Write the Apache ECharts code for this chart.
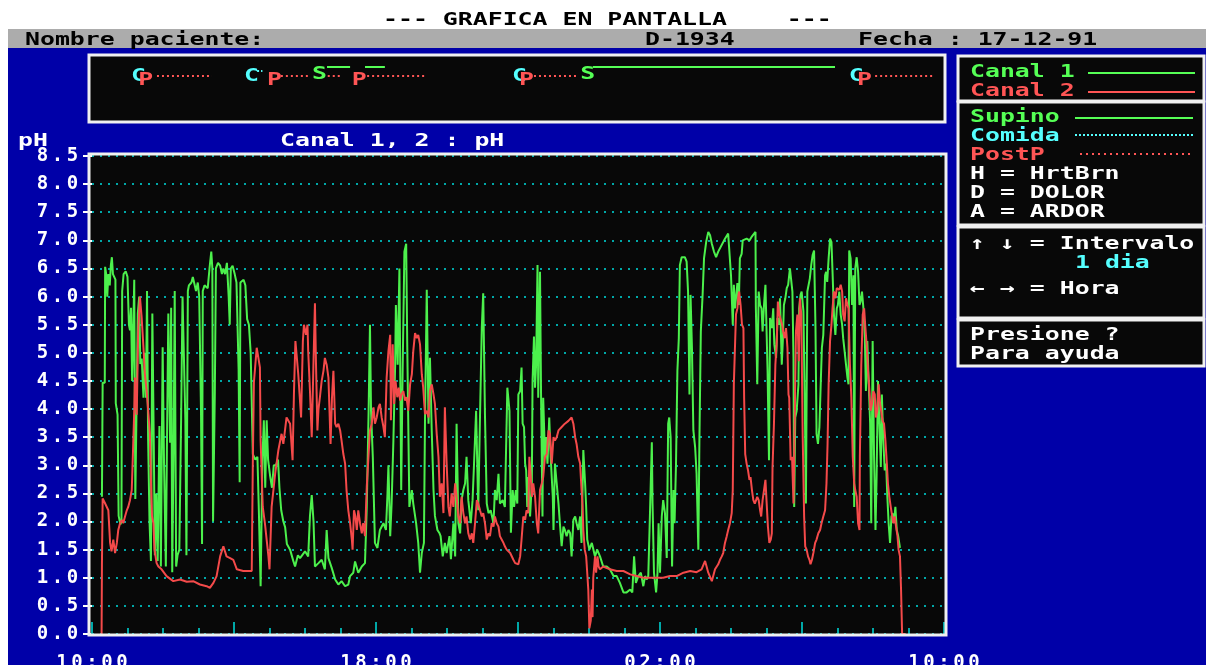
<!DOCTYPE html>
<html>
<head>
<meta charset="utf-8">
<script src="https://cdn.jsdelivr.net/npm/echarts@6/dist/echarts.min.js"></script>
<style>
html, body { margin: 0; padding: 0; background: #fff; }
#main { width: 1206px; height: 665px; }
</style>
</head>
<body>
<div id="main"></div>
<script>
// eje X en horas desde las 10:00
var hourTicks = [0, 8, 16, 24];
var hourLabels = ['10:00', '18:00', '02:00', '10:00'];

// eventos (horas)
var comidaHours = [1.10, 4.28, 11.83, 21.32];
var comidaDots = [[4.65, 4.80]];
var postpHours = [1.30, 4.93, 7.32, 12.03, 21.55];
var postpDots = [[1.83, 3.38], [5.32, 6.08], [6.50, 7.04], [7.75, 9.44], [12.45, 13.69], [22.06, 23.69]];
var supinoHours = [6.20, 13.75];
var supinoLines = [[6.62, 7.27], [7.69, 8.25], [14.11, 20.93]];

// Canal 1 (verde): [hora, pH]
var canal1 = [
  [0.28,2.44],[0.30,4.47],[0.36,4.47],[0.37,6.53],[0.40,6.4],[0.43,6.0],[0.46,6.4],[0.50,6.2],[0.53,6.55],[0.56,6.7],
  [0.59,6.4],[0.66,6.3],[0.67,4.1],[0.72,3.9],[0.75,2.1],[0.80,1.95],[0.83,2.0],[0.85,6.1],[0.89,6.4],[0.95,6.45],
  [1.0,6.35],[1.04,5.5],[1.07,5.4],[1.10,5.8],[1.13,4.5],[1.15,5.0],[1.19,6.3],[1.22,2.4],[1.25,3.8],[1.29,5.7],
  [1.33,6.0],[1.36,4.8],[1.40,4.9],[1.45,4.2],[1.49,5.0],[1.52,4.2],[1.55,6.1],[1.58,3.5],[1.62,2.0],[1.66,1.3],
  [1.70,5.7],[1.74,3.4],[1.77,1.4],[1.81,2.5],[1.85,1.3],[1.90,3.7],[1.94,1.2],[1.99,5.1],[2.03,3.0],[2.08,1.2],
  [2.11,3.3],[2.15,5.7],[2.20,3.4],[2.23,5.8],[2.26,1.1],[2.30,3.4],[2.33,6.1],[2.37,1.2],[2.41,1.4],[2.46,1.5],
  [2.51,3.8],[2.55,6.0],[2.60,6.0],[2.63,3.8],[2.66,1.4],[2.70,6.1],[2.73,6.2],[2.80,6.25],[2.84,6.35],[2.93,6.1],
  [2.98,6.25],[3.02,6.0],[3.07,4.0],[3.10,1.6],[3.12,6.1],[3.17,6.2],[3.26,6.15],[3.31,6.5],[3.36,6.8],[3.39,6.5],
  [3.41,2.0],[3.46,4.3],[3.49,6.5],[3.55,6.6],[3.61,6.55],[3.66,6.4],[3.70,6.5],[3.75,6.4],[3.80,6.6],[3.85,6.0],
  [3.88,5.5],[3.91,6.5],[3.96,6.55],[4.02,6.4],[4.07,6.25],[4.13,4.7],[4.16,2.7],[4.18,6.25],[4.27,6.3],[4.32,6.2],
  [4.37,5.6],[4.42,5.5],[4.47,5.0],[4.53,3.2],[4.60,3.1],[4.66,3.15],[4.70,2.2],[4.75,0.85],[4.80,3.1],[4.84,3.8],
  [4.88,2.6],[4.92,3.8],[4.96,3.1],[5.02,2.8],[5.07,2.6],[5.12,3.0],[5.18,3.0],[5.24,3.1],[5.28,2.6],[5.33,2.2],
  [5.39,2.0],[5.44,1.9],[5.49,1.6],[5.58,1.5],[5.67,1.3],[5.72,1.2],[5.80,1.4],[5.86,1.35],[6.00,1.47],[6.09,1.38],
  [6.14,2.1],[6.19,2.47],[6.24,2.0],[6.28,1.2],[6.38,1.26],[6.47,1.32],[6.56,1.15],[6.61,1.85],[6.66,1.35],[6.75,1.18],
  [6.85,0.97],[6.94,0.88],[7.03,0.94],[7.13,0.85],[7.22,0.88],[7.27,1.03],[7.36,1.09],[7.41,1.29],[7.50,1.09],[7.60,1.2],
  [7.69,1.26],[7.74,2.26],[7.79,3.9],[7.83,5.5],[7.86,3.97],[7.91,3.15],[7.97,1.62],[8.04,1.53],[8.11,1.85],[8.21,1.97],
  [8.28,1.85],[8.32,2.44],[8.35,3.0],[8.40,1.74],[8.44,2.32],[8.49,3.44],[8.54,4.8],[8.56,5.85],[8.61,4.79],[8.66,6.5],
  [8.71,2.56],[8.75,4.68],[8.80,6.8],[8.85,6.94],[8.88,5.15],[8.94,2.26],[9.01,2.56],[9.05,2.32],[9.13,1.97],[9.19,1.62],
  [9.24,1.09],[9.29,1.44],[9.35,1.62],[9.38,3.8],[9.43,6.12],[9.48,3.74],[9.52,4.91],[9.57,3.62],[9.62,2.56],[9.66,2.1],
  [9.73,1.85],[9.79,1.79],[9.82,1.74],[9.88,1.38],[9.94,1.62],[9.99,1.44],[10.07,1.74],[10.11,1.33],[10.18,1.97],[10.23,1.38],
  [10.27,3.74],[10.32,1.97],[10.37,1.79],[10.41,2.38],[10.46,2.56],[10.51,2.68],[10.55,3.15],[10.60,2.38],[10.67,1.97],[10.72,2.38],
  [10.76,3.0],[10.82,3.97],[10.88,2.2],[10.93,3.88],[10.98,5.45],[11.02,6.06],[11.07,3.88],[11.12,2.32],[11.17,2.15],[11.23,2.2],
  [11.31,1.97],[11.35,2.56],[11.40,2.38],[11.45,2.85],[11.49,2.32],[11.57,2.38],[11.63,2.26],[11.70,4.38],[11.76,3.97],[11.80,1.8],
  [11.85,2.56],[11.89,2.26],[11.94,2.56],[11.98,2.32],[12.01,4.26],[12.06,4.32],[12.10,4.74],[12.13,3.74],[12.17,3.68],[12.20,3.03],
  [12.23,2.91],[12.26,2.26],[12.29,2.79],[12.34,2.09],[12.39,2.68],[12.41,4.5],[12.45,5.29],[12.48,4.38],[12.51,4.79],[12.55,6.56],
  [12.57,4.2],[12.62,6.44],[12.65,4.2],[12.69,2.09],[12.71,4.2],[12.76,3.15],[12.79,3.5],[12.83,3.03],[12.88,3.85],[12.92,3.15],
  [12.98,2.44],[13.0,1.85],[13.04,3.03],[13.09,2.68],[13.14,2.32],[13.18,1.97],[13.23,1.56],[13.28,1.91],[13.32,1.85],[13.37,1.74],
  [13.42,1.85],[13.47,1.79],[13.51,1.38],[13.56,2.03],[13.61,2.09],[13.65,1.97],[13.70,1.85],[13.75,2.09],[13.79,1.62],[13.84,3.27],
  [13.89,2.68],[13.92,2.26],[13.95,1.68],[14.01,1.5],[14.08,1.62],[14.17,1.38],[14.23,1.5],[14.31,1.38],[14.40,1.2],[14.50,1.2],
  [14.59,1.15],[14.69,1.03],[14.78,1.03],[14.87,0.91],[14.97,0.74],[15.06,0.74],[15.16,0.79],[15.22,0.74],[15.27,1.38],[15.32,0.91],
  [15.39,1.03],[15.46,1.09],[15.53,0.85],[15.58,1.03],[15.63,0.97],[15.67,1.03],[15.72,2.2],[15.77,3.41],[15.79,2.32],[15.83,1.09],
  [15.89,0.74],[15.93,1.09],[15.96,1.97],[16.0,1.09],[16.05,2.09],[16.09,2.38],[16.14,2.15],[16.19,1.35],[16.23,3.74],[16.26,3.85],
  [16.30,3.5],[16.34,1.2],[16.38,2.56],[16.41,1.97],[16.45,3.0],[16.49,4.68],[16.53,5.26],[16.56,6.56],[16.61,6.7],[16.66,6.68],
  [16.70,6.7],[16.75,6.62],[16.79,6.09],[16.83,4.26],[16.86,6.03],[16.90,5.09],[16.94,3.62],[16.99,3.32],[17.03,2.85],[17.08,1.5],
  [17.11,3.44],[17.15,5.38],[17.20,6.03],[17.24,6.68],[17.30,6.97],[17.36,7.15],[17.41,7.09],[17.46,6.94],[17.52,6.8],[17.58,6.7],
  [17.64,6.8],[17.69,6.82],[17.83,7.03],[17.92,7.12],[17.97,7.15],[18.0,6.38],[18.05,5.5],[18.08,6.21],[18.11,5.79],[18.14,5.97],
  [18.18,6.24],[18.22,5.85],[18.25,6.68],[18.30,6.76],[18.33,7.0],[18.44,7.03],[18.52,7.0],[18.58,7.06],[18.69,7.15],[18.70,5.82],
  [18.74,4.44],[18.78,6.09],[18.82,5.85],[18.86,5.79],[18.89,5.38],[18.93,5.85],[18.97,6.21],[19.0,5.44],[19.03,4.68],[19.07,3.09],
  [19.10,5.62],[19.15,5.44],[19.19,5.79],[19.22,5.15],[19.27,4.91],[19.31,5.62],[19.36,5.5],[19.38,5.97],[19.43,4.79],[19.46,5.21],
  [19.49,5.85],[19.53,5.97],[19.57,6.15],[19.61,6.21],[19.66,6.5],[19.70,6.53],[19.73,6.09],[19.76,4.91],[19.78,2.26],[19.81,3.85],
  [19.85,3.97],[19.90,4.44],[19.92,5.79],[19.96,6.03],[19.99,6.09],[20.04,5.74],[20.08,4.03],[20.11,2.32],[20.15,6.09],[20.19,6.12],
  [20.22,6.32],[20.26,6.56],[20.30,6.74],[20.34,6.82],[20.38,5.44],[20.41,3.56],[20.45,3.38],[20.49,3.68],[20.53,4.5],[20.56,5.09],
  [20.60,5.32],[20.65,6.38],[20.68,6.44],[20.71,6.26],[20.75,6.68],[20.79,7.03],[20.83,6.97],[20.86,6.44],[20.90,5.68],[20.94,5.32],
  [20.98,5.79],[21.01,5.85],[21.05,6.09],[21.09,5.68],[21.13,5.5],[21.16,5.26],[21.20,5.03],[21.24,4.79],[21.28,4.56],[21.31,4.44],
  [21.33,6.82],[21.37,6.68],[21.41,5.85],[21.45,6.38],[21.47,2.26],[21.50,6.5],[21.54,6.7],[21.58,6.44],[21.62,5.85],[21.65,5.91],
  [21.69,6.09],[21.73,5.79],[21.77,5.26],[21.80,4.32],[21.84,5.21],[21.88,4.44],[21.92,3.74],[21.95,1.97],[21.99,5.21],[22.03,3.15],
  [22.07,1.85],[22.10,2.74],[22.14,4.5],[22.18,3.74],[22.22,2.97],[22.25,4.26],[22.29,3.44],[22.33,2.91],[22.37,3.03],[22.40,2.5],
  [22.44,1.97],[22.48,1.62],[22.52,2.09],[22.55,2.15],[22.59,1.97],[22.63,2.26],[22.67,1.85],[22.71,1.74],[22.76,1.53]
];

// Canal 2 (rojo): [hora, pH]
var canal2 = [
  [0.27,0],[0.28,1.24],[0.30,2.41],[0.37,2.32],[0.41,2.35],[0.46,2.2],[0.51,1.62],[0.55,1.47],[0.60,1.68],[0.65,1.44],
  [0.70,1.62],[0.74,1.85],[0.79,1.97],[0.84,2.03],[0.88,1.97],[0.93,2.09],[0.98,2.2],[1.02,2.26],[1.07,2.38],[1.12,2.56],
  [1.15,3.15],[1.19,3.97],[1.21,4.56],[1.26,3.9],[1.30,5.38],[1.35,6.0],[1.40,5.62],[1.45,5.09],[1.49,4.62],[1.54,4.32],
  [1.59,3.91],[1.63,3.56],[1.66,2.74],[1.69,2.1],[1.73,1.97],[1.76,1.5],[1.79,1.38],[1.82,1.26],[1.87,1.2],[1.96,1.15],
  [2.10,1.03],[2.29,0.94],[2.48,0.97],[2.67,0.93],[2.85,0.94],[3.04,0.88],[3.23,0.85],[3.32,0.82],[3.42,0.91],[3.51,1.03],
  [3.61,1.38],[3.70,1.56],[3.79,1.38],[3.89,1.35],[3.98,1.32],[4.08,1.15],[4.26,1.12],[4.50,1.12],[4.53,3.03],[4.56,4.47],
  [4.64,5.09],[4.73,4.74],[4.75,3.44],[4.81,2.26],[4.87,1.97],[4.97,1.38],[5.0,1.15],[5.06,2.26],[5.16,2.85],[5.25,3.27],
  [5.34,3.56],[5.39,3.38],[5.48,3.85],[5.58,3.74],[5.65,3.09],[5.69,4.32],[5.73,5.21],[5.81,4.62],[5.86,4.62],[5.89,3.85],
  [5.94,5.21],[5.97,5.5],[6.03,5.32],[6.07,5.5],[6.09,5.03],[6.14,4.32],[6.19,3.5],[6.24,4.85],[6.28,5.88],[6.31,4.79],
  [6.35,3.62],[6.38,4.0],[6.42,4.21],[6.47,4.5],[6.52,4.68],[6.56,4.91],[6.61,4.79],[6.66,4.56],[6.69,3.97],[6.72,3.38],
  [6.76,4.2],[6.80,4.68],[6.85,3.74],[6.89,3.68],[6.94,3.74],[6.99,3.62],[7.03,3.44],[7.08,3.2],[7.13,3.03],[7.17,2.56],
  [7.22,2.2],[7.27,1.97],[7.32,1.68],[7.34,1.5],[7.38,2.2],[7.42,2.09],[7.46,1.85],[7.50,2.2],[7.55,1.97],[7.60,1.79],
  [7.64,1.97],[7.69,1.74],[7.74,2.62],[7.79,2.62],[7.83,3.62],[7.88,3.74],[7.93,4.03],[7.97,3.74],[8.02,3.85],[8.07,4.03],
  [8.11,4.09],[8.16,3.85],[8.21,3.68],[8.25,3.5],[8.30,4.56],[8.35,5.03],[8.40,5.32],[8.42,3.8],[8.47,5.15],[8.51,4.09],
  [8.55,4.5],[8.60,4.21],[8.64,4.38],[8.68,4.15],[8.72,4.26],[8.77,4.32],[8.82,4.15],[8.86,4.21],[8.91,3.97],[8.96,4.44],
  [9.01,4.62],[9.05,5.03],[9.10,5.35],[9.15,5.26],[9.19,5.32],[9.24,5.15],[9.29,4.62],[9.33,4.38],[9.38,3.91],[9.43,3.97],
  [9.48,3.85],[9.52,4.32],[9.57,4.44],[9.62,4.26],[9.66,4.09],[9.71,3.56],[9.76,3.15],[9.80,2.44],[9.85,2.68],[9.90,2.15],
  [9.94,4.03],[9.99,3.03],[10.04,2.26],[10.08,2.09],[10.13,2.5],[10.18,2.26],[10.23,2.68],[10.27,2.44],[10.32,2.09],[10.37,1.97],
  [10.41,2.44],[10.46,2.15],[10.51,1.97],[10.55,2.09],[10.60,1.79],[10.65,1.68],[10.70,1.79],[10.74,1.62],[10.79,1.97],[10.84,2.38],
  [10.88,2.32],[10.93,2.2],[10.98,2.09],[11.02,2.15],[11.07,1.97],[11.12,1.68],[11.17,1.79],[11.21,1.74],[11.26,1.97],[11.31,1.91],
  [11.35,2.09],[11.40,1.97],[11.45,1.91],[11.49,1.74],[11.54,1.68],[11.59,1.62],[11.63,1.56],[11.68,1.5],[11.73,1.47],[11.78,1.44],
  [11.87,1.32],[11.92,1.26],[11.96,1.29],[12.01,1.24],[12.06,1.38],[12.10,1.68],[12.15,2.09],[12.20,2.03],[12.24,2.2],[12.29,2.15],
  [12.32,3.15],[12.36,2.79],[12.39,2.44],[12.43,2.68],[12.48,2.44],[12.53,1.97],[12.57,1.79],[12.62,2.56],[12.67,2.68],[12.71,2.79],
  [12.76,3.15],[12.81,3.2],[12.86,3.62],[12.90,3.56],[12.95,3.03],[13.0,3.5],[13.04,3.44],[13.09,3.5],[13.14,3.62],[13.18,3.59],
  [13.23,3.68],[13.28,3.71],[13.32,3.74],[13.37,3.76],[13.42,3.79],[13.47,3.82],[13.51,3.85],[13.56,3.74],[13.61,3.5],[13.65,3.38],
  [13.70,3.15],[13.75,3.03],[13.79,2.56],[13.82,2.26],[13.84,1.85],[13.88,1.5],[13.92,1.38],[13.95,1.09],[13.98,0.79],[14.01,0.1],
  [14.05,0.24],[14.08,0.79],[14.10,0.3],[14.12,1.0],[14.17,1.38],[14.20,1.09],[14.24,1.38],[14.27,1.2],[14.31,1.15],[14.40,1.2],
  [14.59,1.15],[14.78,1.12],[14.97,1.12],[15.16,1.06],[15.34,1.03],[15.53,1.0],[15.72,1.0],[15.91,1.0],[16.09,1.0],[16.28,1.03],
  [16.47,1.03],[16.66,1.09],[16.85,1.12],[17.03,1.1],[17.17,1.15],[17.27,1.3],[17.36,1.09],[17.46,0.94],[17.55,1.15],[17.64,1.24],
  [17.69,1.32],[17.74,1.38],[17.78,1.44],[17.83,1.62],[17.88,1.74],[17.92,1.85],[17.97,1.97],[18.02,2.15],[18.05,2.56],[18.08,4.44],
  [18.11,4.44],[18.14,5.68],[18.18,5.79],[18.21,6.03],[18.23,6.09],[18.27,5.85],[18.31,5.5],[18.35,5.44],[18.37,4.2],[18.40,3.2],
  [18.44,3.03],[18.48,2.91],[18.52,2.74],[18.55,2.79],[18.59,2.56],[18.63,2.38],[18.67,2.32],[18.70,2.32],[18.74,2.44],[18.78,2.38],
  [18.82,2.2],[18.85,2.09],[18.89,2.38],[18.93,2.56],[18.97,2.74],[19.0,2.38],[19.04,1.91],[19.08,1.62],[19.12,1.68],[19.15,1.79],
  [19.17,2.97],[19.21,3.74],[19.25,4.79],[19.29,5.21],[19.32,5.91],[19.36,5.68],[19.40,5.68],[19.44,5.5],[19.47,5.38],[19.51,5.26],
  [19.55,5.44],[19.59,5.09],[19.62,4.26],[19.64,4.2],[19.68,3.09],[19.72,3.15],[19.76,2.32],[19.79,3.62],[19.83,5.38],[19.87,5.68],
  [19.91,4.85],[19.94,5.97],[19.98,5.68],[20.02,3.5],[20.06,2.09],[20.09,1.56],[20.13,1.5],[20.17,1.38],[20.21,1.32],[20.24,1.24],
  [20.28,1.32],[20.32,1.44],[20.37,1.62],[20.41,1.68],[20.46,1.79],[20.51,1.85],[20.55,1.97],[20.60,2.09],[20.65,2.2],[20.69,2.68],
  [20.72,3.38],[20.75,4.44],[20.79,5.21],[20.83,5.5],[20.86,5.79],[20.90,6.09],[20.94,5.97],[20.98,6.15],[21.01,6.18],[21.05,6.12],
  [21.09,6.21],[21.13,6.09],[21.16,5.68],[21.20,5.56],[21.24,5.97],[21.28,5.85],[21.31,5.79],[21.35,4.79],[21.39,4.2],[21.43,3.15],
  [21.47,2.68],[21.50,2.56],[21.54,2.44],[21.58,1.97],[21.62,1.85],[21.63,3.15],[21.67,4.79],[21.71,5.68],[21.75,5.79],[21.78,5.5],
  [21.82,5.15],[21.86,4.68],[21.90,4.32],[21.93,3.97],[21.97,4.09],[22.01,4.32],[22.05,4.26],[22.08,3.85],[22.12,3.97],[22.16,4.44],
  [22.20,4.09],[22.23,3.97],[22.27,3.79],[22.31,3.74],[22.35,3.44],[22.39,3.03],[22.42,2.68],[22.46,2.44],[22.50,2.26],[22.54,2.09],
  [22.57,1.97],[22.61,2.09],[22.65,1.91],[22.69,1.74],[22.72,1.5],[22.76,1.38],[22.79,0.79],[22.82,0],[22.92,0]
];

var FONT = 'DejaVu Sans Mono';
var GREEN = '#55ff55', RED = '#ff5555', CYAN = '#55ffff', WHITE = '#ffffff';

// texto tipo pantalla DOS: letras anchas
function txt(x, y, s, color) {
    return {
        type: 'text', x: x, y: y, scaleX: 1.38, silent: true, z: 30,
        style: { text: s, fill: color, fontFamily: FONT, fontWeight: 'bold', fontSize: 18, verticalAlign: 'middle' }
    };
}
function box(x, y, w, h) {
    return {
        type: 'rect', silent: true, z: 5,
        shape: { x: x, y: y, width: w, height: h },
        style: { fill: '#080808', stroke: '#f0f0f0', lineWidth: 3 }
    };
}
function seg(x1, x2, y, color, dash) {
    return {
        type: 'line', silent: true, z: 30,
        shape: { x1: x1, y1: y, x2: x2, y2: y },
        style: { stroke: color, lineWidth: 2, lineDash: dash || null }
    };
}
// celdas de ancho fijo para las etiquetas de los ejes
function cells(s) {
    return s.split('').map(function (c) { return '{c|' + c + '}'; }).join('');
}
var cellRich = { c: { width: 15, align: 'center', fontFamily: FONT, fontWeight: 'bold', fontSize: 19, color: WHITE } };

var chart = echarts.init(document.getElementById('main'));

chart.setOption({
    backgroundColor: 'transparent',
    animation: false,
    grid: { left: 92, right: 262, top: 156, bottom: 31, containLabel: false, outerBoundsMode: 'none' },
    xAxis: [{
        type: 'value', min: 0, max: 24, interval: 1,
        axisLine: { show: false },
        axisTick: { show: true, inside: true, length: 6, lineStyle: { color: '#00a8a8', width: 2 } },
        splitLine: { show: false },
        axisLabel: {
            margin: 20,
            formatter: function (v) {
                var i = hourTicks.indexOf(v);
                return i < 0 ? '' : cells(hourLabels[i]);
            },
            rich: cellRich
        }
    }, {
        type: 'value', min: 0, max: 24, interval: 4, position: 'bottom',
        axisLine: { show: false },
        axisTick: { show: true, inside: true, length: 12, lineStyle: { color: '#00a8a8', width: 2 } },
        splitLine: { show: false },
        axisLabel: { show: false }
    }],
    yAxis: {
        type: 'value', min: 0, max: 8.5, interval: 0.5,
        axisLine: { show: false },
        axisTick: { show: true, length: 9, lineStyle: { color: WHITE, width: 2 } },
        splitLine: { show: true, lineStyle: { color: '#00a8a8', width: 2, type: [2, 6] } },
        axisLabel: {
            margin: 12,
            formatter: function (v) { return cells(v.toFixed(1)); },
            rich: cellRich
        }
    },
    series: [{
        name: 'Canal 1', type: 'line', data: canal1, showSymbol: false, z: 3,
        lineStyle: { color: '#4cf04c', width: 2 }
    }, {
        name: 'Canal 2', type: 'line', data: canal2, showSymbol: false, z: 4,
        lineStyle: { color: '#f44a4a', width: 2 }
    }]
});

// posiciones de eventos con la escala del eje X
var px = function (h) { return chart.convertToPixel({ xAxisIndex: 0 }, h); };

var els = [
    // fondo
    { type: 'rect', silent: true, z: -30, shape: { x: 8, y: 29, width: 1198, height: 19 }, style: { fill: '#acacac' } },
    { type: 'rect', silent: true, z: -30, shape: { x: 8, y: 48, width: 1198, height: 617 }, style: { fill: '#0000a8' } },
    // marco del gráfico
    { type: 'rect', silent: true, z: -20, shape: { x: 89, y: 154, width: 857, height: 481 }, style: { fill: '#080808' } },
    { type: 'rect', silent: true, z: 20, shape: { x: 89, y: 154, width: 857, height: 481 }, style: { fill: 'none', stroke: '#f0f0f0', lineWidth: 3 } },
    // cabecera
    txt(383, 20, '--- GRAFICA EN PANTALLA    ---', '#000'),
    txt(25, 40, 'Nombre paciente:', '#000'),
    txt(645, 40, 'D-1934', '#000'),
    txt(858, 40, 'Fecha : 17-12-91', '#000'),
    // barra de eventos
    box(89, 55, 856, 67),
    // títulos
    txt(18, 141, 'pH', WHITE),
    txt(280, 141, 'Canal 1, 2 : pH', WHITE),
    // panel derecho
    box(958, 56, 246, 45),
    txt(970, 72, 'Canal 1', GREEN), seg(1088, 1195, 73, GREEN),
    txt(970, 91, 'Canal 2', RED), seg(1088, 1195, 92, RED),
    box(958, 102, 246, 123),
    txt(970, 117, 'Supino', GREEN), seg(1075, 1193, 118, GREEN),
    txt(970, 136, 'Comida', CYAN), seg(1075, 1193, 135, CYAN, [2, 2]),
    txt(970, 155, 'PostP', RED), seg(1080, 1190, 154, RED, [2, 4]),
    txt(970, 174, 'H = HrtBrn', WHITE),
    txt(970, 193, 'D = DOLOR', WHITE),
    txt(970, 212, 'A = ARDOR', WHITE),
    box(958, 227, 246, 91),
    txt(970, 244, '\u2191 \u2193 = Intervalo', WHITE),
    txt(1075, 263, '1 dia', CYAN),
    txt(970, 289, '\u2190 \u2192 = Hora', WHITE),
    box(958, 320, 246, 46),
    txt(970, 335, 'Presione ?', WHITE),
    txt(970, 354, 'Para ayuda', WHITE)
];

supinoLines.forEach(function (s) { els.push(seg(px(s[0]), px(s[1]), 67, GREEN)); });
comidaDots.forEach(function (s) { els.push(seg(px(s[0]), px(s[1]), 71, CYAN, [2, 2])); });
postpDots.forEach(function (s) { els.push(seg(px(s[0]), px(s[1]), 76, RED, [2, 3])); });
comidaHours.forEach(function (h) { els.push(txt(px(h), 76, 'C', CYAN)); });
supinoHours.forEach(function (h) { els.push(txt(px(h), 74, 'S', GREEN)); });
postpHours.forEach(function (h) { els.push(txt(px(h), 80, 'P', RED)); });

chart.setOption({ graphic: { elements: els } });
</script>
</body>
</html>
